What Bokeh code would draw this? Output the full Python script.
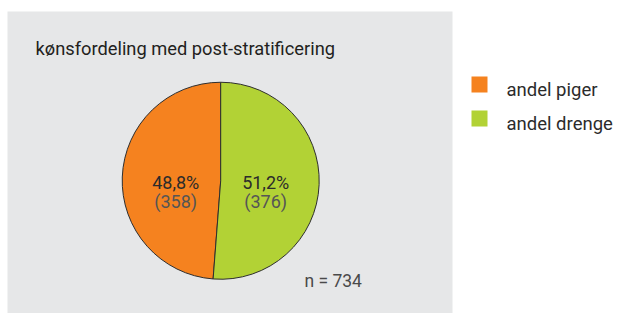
import math
from bokeh.plotting import figure
from bokeh.models import Range1d, ColumnDataSource
from bokeh.core.properties import value
from bokeh.embed import file_html
from bokeh.resources import INLINE

# ---- data ----
title_text = "kønsfordeling med post-stratificering"
categories = ["andel piger", "andel drenge"]
counts = [358, 376]
colors = ["#f5821f", "#b2d235"]
n_total = 734

FONT = "Roboto"

W, H = 617, 313
p = figure(width=W, height=H, output_backend="svg", toolbar_location=None,
           x_range=Range1d(0, W), y_range=Range1d(0, H), min_border=0,
           x_axis_location=None, y_axis_location=None)
p.grid.visible = False
p.outline_line_color = None
p.background_fill_color = "white"
p.border_fill_color = "white"

# grey panel
p.quad(left=7, right=452, bottom=-10, top=302, fill_color="#e6e7e8", line_color=None)

# pie
cx, cy, r = 220.2, 132.75, 98.5
total = sum(counts)
fracs = [c / total for c in counts]
starts, ends, mids = [], [], []
a = math.pi / 2
for f in fracs:
    starts.append(a)
    a2 = a + 2 * math.pi * f
    ends.append(a2)
    mids.append((a + a2) / 2)
    a = a2

src = ColumnDataSource(dict(start=starts, end=ends, color=colors))
p.wedge(x=cx, y=cy, radius=r, start_angle="start", end_angle="end",
        direction="anticlock", fill_color="color", line_color="#2e2e2e",
        line_width=1, source=src)

pct_labels = [("%.1f%%" % (100 * f)).replace(".", ",") for f in fracs]
cnt_labels = ["(%d)" % c for c in counts]
lx = [cx + 45 * math.cos(m) for m in mids]
p.text(x=lx, y=[130.7] * 2, text=pct_labels, text_align="center",
       text_baseline="alphabetic", text_font=value(FONT),
       text_font_size="18px", text_color="#2b2b2b")
p.text(x=lx, y=[112.3] * 2, text=cnt_labels, text_align="center",
       text_baseline="alphabetic", text_font=value(FONT),
       text_font_size="18px", text_color="#555555")

# title
p.text(x=[35], y=[264.7], text=[title_text], text_align="left",
       text_baseline="alphabetic", text_font=value(FONT),
       text_font_size="18.3px", text_color="#231f20")

# n label
p.text(x=[304], y=[33], text=["n = %d" % n_total], text_align="left",
       text_baseline="alphabetic", text_font=value(FONT),
       text_font_size="17.5px", text_color="#4a4a4a")

# legend
ly = [229 - 34 * i for i in range(len(categories))]
p.rect(x=[479] * len(categories), y=ly, width=16, height=16,
       fill_color=colors, line_color=None)
p.text(x=[506] * len(categories), y=[v - 5.3 for v in ly], text=categories,
       text_align="left", text_baseline="alphabetic", text_font=value(FONT),
       text_font_size="18.5px", text_color="#2b2b2b")

open("out.html", "w").write(file_html(p, INLINE))
